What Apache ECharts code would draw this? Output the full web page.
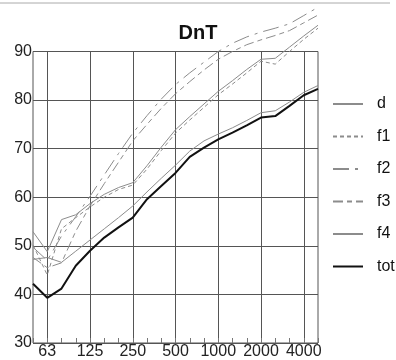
<!DOCTYPE html>
<html>
<head>
<meta charset="utf-8">
<script src="https://cdn.jsdelivr.net/npm/echarts@6/dist/echarts.min.js"></script>
<style>
html,body{margin:0;padding:0;background:#fff;}
#c{width:396px;height:360px;}
</style>
</head>
<body>
<div id="c"></div>
<script>
// third-octave band centre frequencies (Hz)
const freqs = ['50','63','80','100','125','160','200','250','315','400','500','630','800','1000','1250','1600','2000','2500','3150','4000','5000'];
const tickLabels = ['63','125','250','500','1000','2000','4000'];
const yTicks = [30, 40, 50, 60, 70, 80, 90];

const tot = [42.2, 39.3, 41.2, 45.9, 49.0, 51.7, 53.8, 55.8, 59.6, 62.3, 65.0, 68.3, 70.2, 71.9, 73.3, 74.8, 76.4, 76.7, 78.8, 81.0, 82.3];
const d   = [47.2, 47.6, 46.6, 48.9, 51.2, 53.5, 55.8, 58.2, 61.1, 63.9, 66.6, 69.5, 71.6, 73.0, 74.3, 75.8, 77.4, 77.8, 79.6, 81.6, 83.0];
const f1  = [50.2, 44.0, 53.5, 55.8, 58.0, 60.0, 61.6, 62.5, 65.8, 69.6, 73.2, 75.9, 78.5, 81.1, 83.3, 85.6, 88.0, 87.4, 90.0, 92.5, 94.8];
const f2  = [49.7, 47.0, 52.0, 56.0, 60.2, 64.6, 69.0, 73.2, 76.8, 80.2, 83.2, 85.6, 87.8, 90.0, 91.7, 93.0, 94.0, 94.8, 95.7, 97.4, 99.1];
const f3  = [47.6, 45.5, 46.5, 53.0, 58.2, 62.8, 67.2, 71.6, 75.0, 78.3, 81.3, 83.8, 86.2, 88.4, 90.0, 91.4, 92.4, 93.3, 94.3, 95.9, 97.5];
const f4  = [52.9, 48.8, 55.4, 56.4, 58.7, 60.6, 62.0, 63.0, 66.5, 70.3, 73.9, 76.6, 79.2, 81.8, 84.0, 86.3, 88.4, 88.6, 90.9, 93.2, 95.4];

const seriesNames = ['d', 'f1', 'f2', 'f3', 'f4', 'tot'];
const seriesData = [d, f1, f2, f3, f4, tot];

const gray = '#8c8c8c';
const styles = {
  d:   {color: gray, width: 1, type: 'solid'},
  f1:  {color: gray, width: 1, type: [4, 3]},
  f2:  {color: gray, width: 1, type: [16, 6, 3, 6]},
  f3:  {color: gray, width: 1, type: [10, 4, 5, 4]},
  f4:  {color: gray, width: 1, type: 'solid'},
  tot: {color: '#111', width: 2, type: 'solid'}
};

const chart = echarts.init(document.getElementById('c'), null, {renderer: 'canvas'});
const fontFam = '"Liberation Sans", Arial, sans-serif';

chart.setOption({
  animation: false,
  backgroundColor: '#fff',
  title: {
    text: 'DnT', left: 198, top: 23, textAlign: 'center', padding: 0,
    textStyle: {fontFamily: fontFam, fontWeight: 'bold', fontSize: 20, color: '#111'}
  },
  graphic: [{
    type: 'line', shape: {x1: 0, y1: 3, x2: 390, y2: 3},
    style: {stroke: '#aaa', lineWidth: 1}
  }],
  legend: {
    orient: 'vertical', left: 332, top: 96, padding: 0,
    itemWidth: 30, itemHeight: 14, itemGap: 16.5,
    data: seriesNames,
    itemStyle: {opacity: 0},
    textStyle: {fontFamily: fontFam, fontSize: 16, color: '#111', padding: [0, 0, 0, 9]}
  },
  grid: {
    left: 33, right: 78, top: 51.5, bottom: 14,
    show: true, borderColor: '#555', borderWidth: 1, backgroundColor: 'transparent'
  },
  xAxis: {
    type: 'category', data: freqs, boundaryGap: false,
    axisLine: {show: false},
    axisTick: {show: true, inside: true, length: 5, interval: 0, lineStyle: {color: '#777'}},
    axisLabel: {
      interval: 0, margin: 1, fontFamily: fontFam, fontSize: 16, color: '#222',
      formatter: v => tickLabels.includes(v) ? v : ''
    },
    splitLine: {
      show: true,
      interval: (i, v) => tickLabels.includes(v),
      lineStyle: {color: '#555', width: 1}
    }
  },
  yAxis: {
    type: 'value', min: yTicks[0], max: yTicks[yTicks.length - 1], interval: 10,
    axisLine: {show: false}, axisTick: {show: false},
    axisLabel: {margin: 1, fontFamily: fontFam, fontSize: 16, color: '#222'},
    splitLine: {show: true, lineStyle: {color: '#555', width: 1}}
  },
  series: seriesNames.map((n, k) => ({
    name: n, type: 'line', data: seriesData[k],
    symbol: 'none', clip: false, smooth: false,
    lineStyle: styles[n], itemStyle: {color: styles[n].color},
    z: n === 'tot' ? 5 : 3
  }))
});
</script>
</body>
</html>
